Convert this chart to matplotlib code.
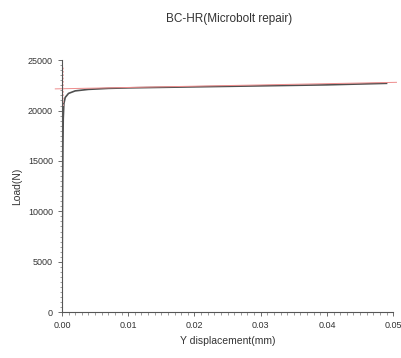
import numpy as np
import matplotlib.pyplot as plt
from matplotlib.ticker import MultipleLocator

plt.rcParams['font.family'] = ['Liberation Sans', 'DejaVu Sans']

# measured curve
disp = [0, 0.00005, 0.0001, 0.00015, 0.0002, 0.0003, 0.0005, 0.001, 0.002, 0.004, 0.007, 0.01, 0.02, 0.03, 0.04, 0.049]
load = [0, 6000, 12000, 16500, 19200, 20700, 21300, 21700, 21950, 22100, 22200, 22250, 22350, 22450, 22550, 22700]

# fitted line
fit_x = [-0.001, 0.0505]
fit_y = [22150, 22800]
peak_x = [0.0002, 0.0002]
peak_y = [20500, 24300]

fig = plt.figure(figsize=(4.02, 3.58), dpi=100)
ax = fig.add_axes([0.154, 0.128, 0.824, 0.704])

ax.plot(disp, load, color="#505050", lw=1.2)
ax.plot(fit_x, fit_y, color="#ee8c8c", lw=0.7, clip_on=False)
ax.plot([0.00005, 0.00005], [0, 22150], color="#ee8c8c", lw=0.7)
ax.plot(peak_x, peak_y, color="#f2a8a8", lw=1.2, ls=(0, (1, 1)))

ax.set_xlim(0, 0.05)
ax.set_ylim(0, 25000)
ax.xaxis.set_major_locator(MultipleLocator(0.01))
ax.xaxis.set_minor_locator(MultipleLocator(0.001))
ax.yaxis.set_major_locator(MultipleLocator(5000))
ax.yaxis.set_minor_locator(MultipleLocator(500))
ax.xaxis.set_major_formatter(plt.FuncFormatter(lambda v, p: f"{v:.2f}"))
for s in ["top", "right"]:
    ax.spines[s].set_visible(False)
for s in ["left", "bottom"]:
    ax.spines[s].set_color("#555555")
    ax.spines[s].set_linewidth(0.8)
ax.tick_params(which="major", labelsize=6.5, colors="#555555", length=3, width=0.6, labelcolor="#333333")
ax.tick_params(which="minor", length=1.8, width=0.5, colors="#777777")

ax.set_xlabel("Y displacement(mm)", fontsize=7.5, color="#333333")
ax.set_ylabel("Load(N)", fontsize=7.5, color="#333333")
fig.suptitle("BC-HR(Microbolt repair)", fontsize=8.5, color="#333333", x=0.57, y=0.965)

plt.savefig("out.png", dpi=100)
